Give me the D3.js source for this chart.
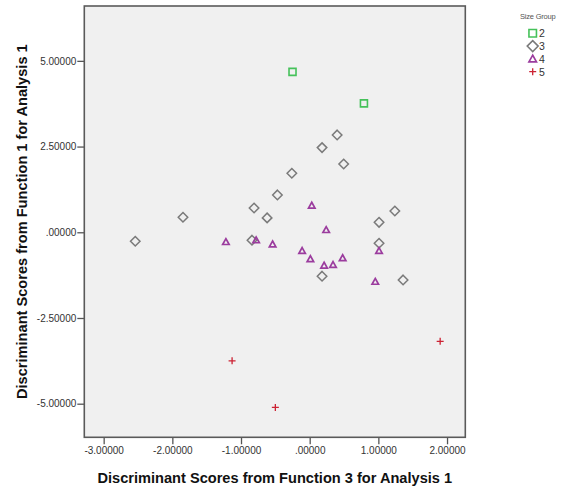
<!DOCTYPE html>
<html>
<head>
<meta charset="utf-8">
<script src="https://cdn.jsdelivr.net/npm/d3@7"></script>
<style>
  html, body { margin: 0; padding: 0; background: #ffffff; }
  svg { display: block; font-family: "Liberation Sans", Arial, sans-serif; }
</style>
</head>
<body>
<svg id="chart" width="563" height="491"></svg>
<script>
// Discriminant scores: Function 3 (x) vs Function 1 (y), grouped by size group
const groups = ["2", "3", "4", "5"];

const group2X = [-0.25, 0.79];
const group2Y = [4.68, 3.76];

const group3X = [0.40, 0.18, 0.495, -0.26, -2.54, -1.845, -0.81, -0.62, -0.47, -0.84, 0.18, 1.01, 1.01, 1.24, 1.36];
const group3Y = [2.84, 2.47, 1.99, 1.72, -0.26, 0.44, 0.71, 0.42, 1.09, -0.23, -1.28, -0.32, 0.29, 0.62, -1.39];

const group4X = [-1.22, -0.78, -0.54, 0.03, 0.24, -0.11, 0.01, 0.21, 0.34, 0.48, 0.955, 1.01];
const group4Y = [-0.28, -0.23, -0.35, 0.78, 0.07, -0.54, -0.78, -0.97, -0.95, -0.75, -1.44, -0.54];

const group5X = [-1.13, -0.50, 1.90];
const group5Y = [-3.75, -5.11, -3.18];

const xTicks = [-3, -2, -1, 0, 1, 2];
const yTicks = [-5, -2.5, 0, 2.5, 5];

const xTitle = "Discriminant Scores from Function 3 for Analysis 1";
const yTitle = "Discriminant Scores from Function 1 for Analysis 1";
const legendTitle = "Size Group";

const seriesX = [group2X, group3X, group4X, group5X];
const seriesY = [group2Y, group3Y, group4Y, group5Y];

// marker shapes, colours and sizes per group
const styles = {
  "2": { shape: "square",   color: "#45c15a", size: 7,   width: 1.6 },
  "3": { shape: "diamond",  color: "#7a7a7a", size: 9.5, width: 1.5 },
  "4": { shape: "triangle", color: "#9b3c9e", size: 6.5, width: 1.7 },
  "5": { shape: "cross",    color: "#cc2233", size: 7,   width: 1.3 }
};

function shapePath(shape, s) {
  const h = s / 2;
  if (shape === "square") return `M${-h},${-h}H${h}V${h}H${-h}Z`;
  if (shape === "diamond") return `M0,${-h}L${h},0L0,${h}L${-h},0Z`;
  if (shape === "triangle") return `M0,${-h}L${h},${h * 0.8}L${-h},${h * 0.8}Z`;
  return `M${-h},0H${h}M0,${-h}V${h}`;
}

const svg = d3.select("#chart");
const frame = { left: 84.3, right: 465.3, top: 6, bottom: 437.3 };

const x = d3.scaleLinear().domain([-3.282, 2.266]).range([frame.left, frame.right]);
const y = d3.scaleLinear().domain([-5.98, 6.60]).range([frame.bottom, frame.top]);

const fmt = v => {
  const s = d3.format(".5f")(v).replace("−", "-");
  return s === "0.00000" ? ".00000" : s;
};

// plot background
svg.append("rect")
  .attr("x", frame.left).attr("y", frame.top)
  .attr("width", frame.right - frame.left).attr("height", frame.bottom - frame.top)
  .attr("fill", "#f0f0f0");

// axes
const xAxis = d3.axisBottom(x).tickValues(xTicks).tickFormat(fmt).tickSize(7).tickPadding(3);
const yAxis = d3.axisLeft(y).tickValues(yTicks).tickFormat(fmt).tickSize(7).tickPadding(1);

const gx = svg.append("g").attr("transform", `translate(0,${frame.bottom})`).call(xAxis);
const gy = svg.append("g").attr("transform", `translate(${frame.left},0)`).call(yAxis);

[gx, gy].forEach(g => {
  g.select(".domain").remove();
  g.selectAll(".tick line").attr("stroke", "#555").attr("stroke-width", 1.3);
  g.selectAll(".tick text")
    .attr("fill", "#333")
    .style("font-size", "10px")
    .style("font-family", "'Liberation Sans', Arial, sans-serif");
});

// plot frame
svg.append("rect")
  .attr("x", frame.left).attr("y", frame.top)
  .attr("width", frame.right - frame.left).attr("height", frame.bottom - frame.top)
  .attr("fill", "none").attr("stroke", "#5a5a5a").attr("stroke-width", 1.6);

// points
groups.forEach((g, i) => {
  const st = styles[g];
  const pts = seriesX[i].map((xv, j) => [xv, seriesY[i][j]]);
  svg.append("g").selectAll("path")
    .data(pts)
    .join("path")
    .attr("transform", d => `translate(${x(d[0])},${y(d[1])})`)
    .attr("d", shapePath(st.shape, st.size))
    .attr("fill", "none")
    .attr("stroke", st.color)
    .attr("stroke-width", st.width);
});

// axis titles
svg.append("text")
  .attr("x", (frame.left + frame.right) / 2)
  .attr("y", 483)
  .attr("text-anchor", "middle")
  .attr("fill", "#111")
  .style("font-size", "14.6px")
  .style("font-weight", "bold")
  .text(xTitle);

svg.append("text")
  .attr("transform", `translate(27,${(frame.top + frame.bottom) / 2}) rotate(-90)`)
  .attr("text-anchor", "middle")
  .attr("fill", "#111")
  .style("font-size", "14.6px")
  .style("font-weight", "bold")
  .text(yTitle);

// legend
const legend = svg.append("g").attr("transform", "translate(520,0)");
legend.append("text")
  .attr("x", 0).attr("y", 19)
  .attr("fill", "#555")
  .style("font-size", "7.5px")
  .style("letter-spacing", "-0.2px")
  .text(legendTitle);

groups.forEach((g, i) => {
  const st = styles[g];
  const cy = 33.3 + i * 12.8;
  const size = st.shape === "diamond" ? 11 : st.shape === "triangle" ? 7.5 : st.shape === "square" ? 7.5 : 7;
  legend.append("path")
    .attr("transform", `translate(12.7,${cy})`)
    .attr("d", shapePath(st.shape, size))
    .attr("fill", "none")
    .attr("stroke", st.color)
    .attr("stroke-width", st.width);
  legend.append("text")
    .attr("x", 19).attr("y", cy + 4)
    .attr("fill", "#333")
    .style("font-size", "10.5px")
    .text(g);
});
</script>
</body>
</html>
